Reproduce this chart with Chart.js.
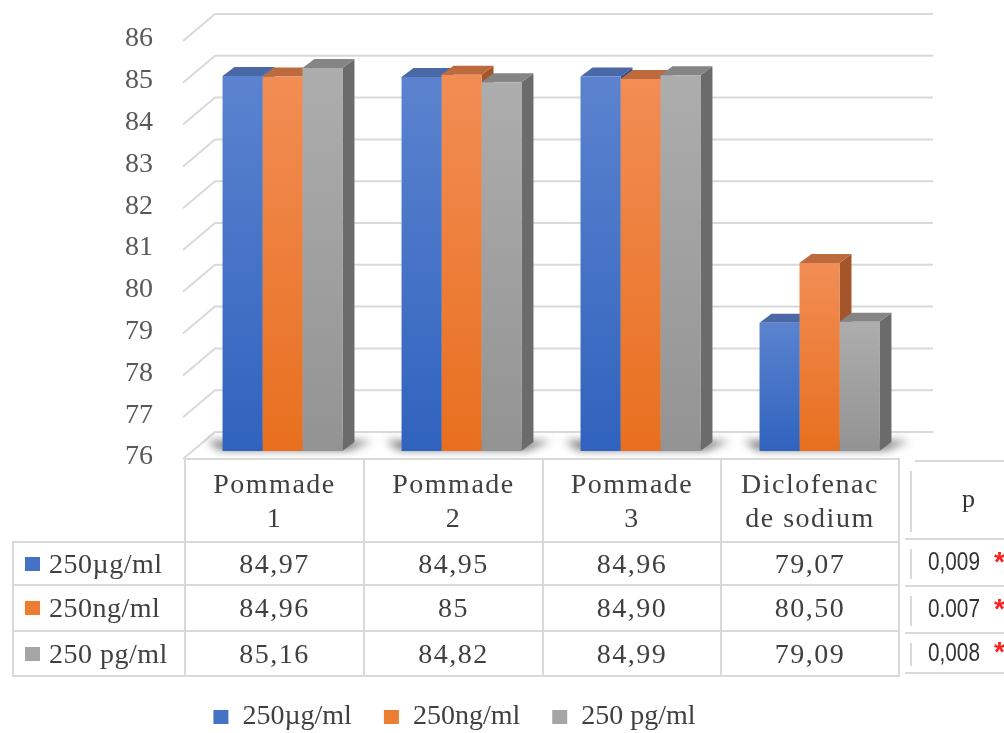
<!DOCTYPE html>
<html>
<head>
<meta charset="utf-8">
<script src="https://cdn.jsdelivr.net/npm/chart.js@4.4.0/dist/chart.umd.min.js"></script>
<style>
  html, body { margin: 0; padding: 0; background: #fff; overflow: hidden; }
  #wrap { position: relative; width: 1004px; height: 733px; }
  #chart { position: absolute; left: 0; top: 0; }
  .cell {
    position: absolute; box-sizing: border-box;
    display: flex; align-items: center; justify-content: center; text-align: center;
    font-family: "Liberation Serif", "Times New Roman", serif; font-size: 28px;
    letter-spacing: 1.5px; line-height: 34px; color: #404040;
    border-color: #d9d9d9; border-style: solid; border-width: 0;
  }
  .key { justify-content: flex-start; padding-left: 11px; letter-spacing: 0.5px; }
  .key i { display: inline-block; width: 15px; height: 14px; margin-right: 9px; }
  .pline { position: absolute; background: #d9d9d9; }
  .pcell {
    position: absolute; display: flex; align-items: center;
    font-family: "Liberation Sans Narrow", "Liberation Sans", sans-serif; font-size: 25px; color: #333;
  }
  .pcell span.num { display: inline-block; transform: scaleX(0.83); transform-origin: left center; }
  .star { color: #ff2020; font-size: 28px; font-weight: bold; }
</style>
</head>
<body>
<div id="wrap">
  <canvas id="chart" width="1004" height="733"></canvas>
  <div id="table"></div>
</div>
<script>
// data
const categories = [['Pommade', '1'], ['Pommade', '2'], ['Pommade', '3'], ['Diclofenac', 'de sodium']];
const seriesNames = ['250µg/ml', '250ng/ml', '250 pg/ml'];
const ugValues = ['84,97', '84,95', '84,96', '79,07'];
const ngValues = ['84,96', '85', '84,90', '80,50'];
const pgValues = ['85,16', '84,82', '84,99', '79,09'];
const pValues = ['0,009', '0.007', '0,008'];
const yMin = 76, yMax = 86, yStep = 1;

// colours
const legendColor = ['#4472c4', '#ed7d31', '#a5a5a5'];
const frontTop = ['#5b83cf', '#f28d55', '#adadad'];
const frontBottom = ['#3063be', '#e86f1e', '#939393'];
const topColor = ['#4a67a6', '#bd6a3e', '#858585'];
const sideColor = ['#2f4f8f', '#a4562a', '#6b6b6b'];

const series = [ugValues, ngValues, pgValues];
const toNum = s => parseFloat(s.replace(',', '.'));

const DX = 12, DY = 9; // depth of the bars
const gridColor = '#d9d9d9';

function frontFill(context, i) {
  const chart = context.chart;
  const area = chart.chartArea;
  if (!area || context.raw === undefined) return frontBottom[i];
  const top = chart.scales.y.getPixelForValue(context.raw);
  const g = chart.ctx.createLinearGradient(0, top, 0, area.bottom);
  g.addColorStop(0, frontTop[i]);
  g.addColorStop(1, frontBottom[i]);
  return g;
}

function poly(ctx, pts) {
  ctx.beginPath();
  ctx.moveTo(pts[0][0], pts[0][1]);
  for (let k = 1; k < pts.length; k++) ctx.lineTo(pts[k][0], pts[k][1]);
  ctx.closePath();
  ctx.fill();
}

const depthPlugin = {
  id: 'depth',
  beforeDatasetsDraw(chart) {
    const ctx = chart.ctx;
    const a = chart.chartArea;
    const ys = chart.scales.y;
    ctx.save();
    // back wall + side wall lines
    ctx.strokeStyle = gridColor;
    ctx.lineWidth = 2;
    for (let v = yMin; v <= yMax; v += yStep) {
      const py = ys.getPixelForValue(v);
      ctx.beginPath();
      ctx.moveTo(a.left - 10, py + 8);
      ctx.lineTo(a.left + 22, py - 19);
      ctx.lineTo(a.right + 24, py - 19);
      ctx.stroke();
    }

    const n = series.length;
    // soft shadows under each group
    ctx.filter = 'blur(4px)';
    ctx.fillStyle = 'rgba(0,0,0,0.55)';
    for (let j = 0; j < categories.length; j++) {
      const first = chart.getDatasetMeta(0).data[j].getProps(['x', 'width'], true);
      const last = chart.getDatasetMeta(n - 1).data[j].getProps(['x', 'width'], true);
      const l = first.x - first.width / 2, r = last.x + last.width / 2, b = a.bottom;
      poly(ctx, [[l - 2, b - 1], [r + 6, b - 1], [r + DX + 18, b - DY - 1], [l - 16, b - DY - 1]]);
    }
    ctx.filter = 'none';

    // top and side faces, left to right
    for (let j = 0; j < categories.length; j++) {
      for (let i = 0; i < n; i++) {
        const el = chart.getDatasetMeta(i).data[j];
        const {x, y, base, width} = el.getProps(['x', 'y', 'base', 'width'], true);
        const b = Math.min(base, a.bottom);
        const l = x - width / 2, r = x + width / 2;
        ctx.fillStyle = sideColor[i];
        poly(ctx, [[r, y], [r + DX, y - DY], [r + DX, b - DY], [r, b]]);
        ctx.fillStyle = topColor[i];
        poly(ctx, [[l, y], [r, y], [r + DX, y - DY], [l + DX, y - DY]]);
      }
    }
    ctx.restore();
  }
};

const serif = "'Liberation Serif', 'Times New Roman', serif";
const defaultLabels = Chart.defaults.plugins.legend.labels.generateLabels;

new Chart(document.getElementById('chart'), {
  type: 'bar',
  data: {
    labels: categories,
    datasets: series.map((vals, i) => ({
      label: seriesNames[i],
      data: vals.map(toNum),
      backgroundColor: ctx => frontFill(ctx, i),
      borderWidth: 0,
      categoryPercentage: 0.67,
      barPercentage: 1
    }))
  },
  options: {
    responsive: false,
    animation: false,
    devicePixelRatio: 1,
    layout: { padding: { left: 0, right: 95, top: 33, bottom: -8 } },
    scales: {
      x: {
        display: true,
        grid: { display: false, drawTicks: false },
        border: { display: false },
        ticks: { display: false },
        afterFit: s => { s.height = 220; }
      },
      y: {
        min: yMin,
        max: yMax,
        grid: { display: false, drawTicks: false },
        border: { display: false },
        ticks: {
          stepSize: yStep,
          padding: 40,
          labelOffset: 6,
          color: '#595959',
          font: { family: serif, size: 28 }
        },
        afterFit: s => {
          s.width = 193;
          s.paddingTop = 10;
          s.paddingBottom = 10;
        }
      }
    },
    plugins: {
      tooltip: { enabled: false },
      legend: {
        position: 'bottom',
        labels: {
          boxWidth: 15,
          boxHeight: 14,
          padding: 32,
          color: '#404040',
          font: { family: serif, size: 28 },
          generateLabels: chart => defaultLabels(chart).map((it, i) => {
            it.fillStyle = legendColor[i];
            it.strokeStyle = legendColor[i];
            it.lineWidth = 0;
            return it;
          })
        }
      }
    }
  },
  plugins: [depthPlugin]
});

// data table under the chart
const colX = [12, 184, 363, 542, 720, 898];
const rowY = [458, 541, 584, 630, 675];
const table = document.getElementById('table');

function addCell(r, c, html, cls) {
  const d = document.createElement('div');
  d.className = 'cell' + (cls ? ' ' + cls : '');
  d.style.left = colX[c] + 'px';
  d.style.top = rowY[r] + 'px';
  d.style.width = (colX[c + 1] - colX[c] + 2) + 'px';
  d.style.height = (rowY[r + 1] - rowY[r] + 2) + 'px';
  if (!(r === 0 && c === 0)) {
    d.style.borderWidth = '2px';
  }
  d.innerHTML = html;
  table.appendChild(d);
}

addCell(0, 0, '');
categories.forEach((cat, j) => addCell(0, j + 1, cat.join('<br>')));
series.forEach((vals, i) => {
  addCell(i + 1, 0, '<i style="background:' + legendColor[i] + '"></i>' + seriesNames[i], 'key');
  vals.forEach((v, j) => addCell(i + 1, j + 1, v));
});

// p-value column
const pRowY = [460, 538, 585, 632, 672];
function pLine(x, y, w, h) {
  const d = document.createElement('div');
  d.className = 'pline';
  d.style.left = x + 'px'; d.style.top = y + 'px';
  d.style.width = w + 'px'; d.style.height = h + 'px';
  table.appendChild(d);
}
pLine(915, pRowY[0], 100, 2);
for (let k = 1; k < pRowY.length; k++) pLine(905, pRowY[k], 110, 2);
for (let k = 0; k < pRowY.length - 1; k++) pLine(910, pRowY[k] + 11, 2, pRowY[k + 1] - pRowY[k] - 17);

function pCell(k, html, left) {
  const d = document.createElement('div');
  d.className = 'pcell';
  d.style.left = left + 'px';
  d.style.top = pRowY[k] + 'px';
  d.style.height = (pRowY[k + 1] - pRowY[k]) + 'px';
  d.innerHTML = html;
  table.appendChild(d);
}
pCell(0, '<span style="font-family:\'Liberation Serif\',serif;font-size:26px">p</span>', 962);
pValues.forEach((p, k) => {
  pCell(k + 1, '<span class="num">' + p + '</span>', 928);
  pCell(k + 1, '<span class="star">*</span>', 994);
});
</script>
</body>
</html>
